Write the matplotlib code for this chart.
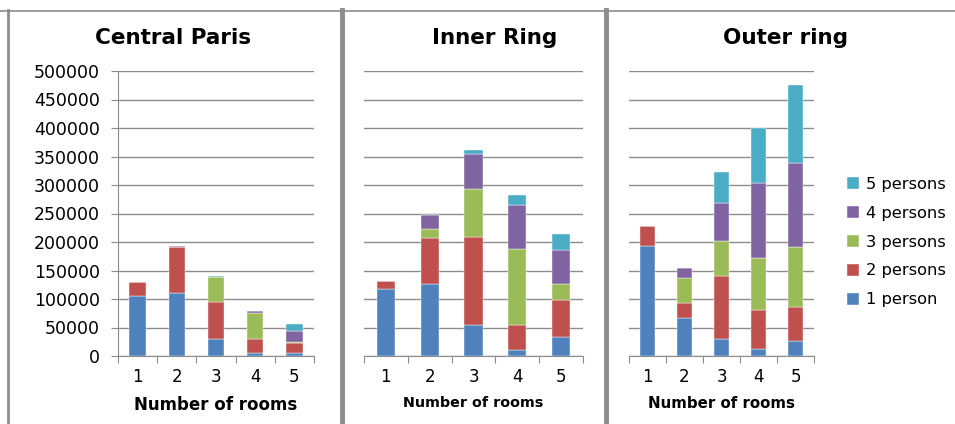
import matplotlib
matplotlib.use("Agg")
import matplotlib.pyplot as plt
from matplotlib.lines import Line2D
import numpy as np

# datos
rooms = ["1", "2", "3", "4", "5"]
series = ["1 person", "2 persons", "3 persons", "4 persons", "5 persons"]
colors = ["#4F81BD", "#C0504D", "#9BBB59", "#8064A2", "#4BACC6"]

central_1p = [106000, 110000, 30000, 6000, 4700]
central_2p = [24000, 82000, 64000, 24500, 18700]
central_3p = [0, 0, 44000, 45500, 500]
central_4p = [0, 1500, 1000, 2500, 20500]
central_5p = [0, 0, 800, 500, 11600]

inner_1p = [117000, 127000, 54400, 10500, 33300]
inner_2p = [14600, 80000, 155000, 44000, 64400]
inner_3p = [0, 16400, 83000, 133300, 28600]
inner_4p = [0, 24000, 61400, 77800, 60200]
inner_5p = [0, 0, 8200, 16400, 27000]

outer_1p = [193000, 67300, 29200, 11700, 26300]
outer_2p = [35000, 26300, 111700, 69600, 60200]
outer_3p = [0, 43800, 60300, 90000, 104700]
outer_4p = [0, 16400, 67800, 132200, 147400]
outer_5p = [0, 0, 53200, 97100, 137400]

titles = ["Central Paris", "Inner Ring", "Outer ring"]
yticks = np.arange(0, 500001, 50000)

W, H = 955, 424
fig = plt.figure(figsize=(W / 100, H / 100), dpi=100)
fig.patch.set_facecolor("white")

def box(x0, y0, x1, y1):
    # convertir pixeles a coordenadas de figura
    return [x0 / W, 1 - y1 / H, (x1 - x0) / W, (y1 - y0) / H]

ax_pos = [box(118, 71, 314, 356), box(364, 71, 583, 356), box(629, 71, 814, 356)]
title_x = [173, 495, 785]
xlabel_size = [12, 10.3, 10.8]
data = [
    [central_1p, central_2p, central_3p, central_4p, central_5p],
    [inner_1p, inner_2p, inner_3p, inner_4p, inner_5p],
    [outer_1p, outer_2p, outer_3p, outer_4p, outer_5p],
]

handles = []
for k in range(3):
    ax = fig.add_axes(ax_pos[k])
    x = np.arange(len(rooms))
    bottom = np.zeros(len(rooms))
    for s in range(5):
        vals = np.array(data[k][s], dtype=float)
        b = ax.bar(x, vals, width=0.42, bottom=bottom, color=colors[s],
                   edgecolor="white", linewidth=0.3, zorder=3)
        bottom += vals
        if k == 2:
            handles.append(b)
    ax.set_xlim(-0.5, 4.5)
    ax.set_ylim(0, 500000)
    ax.set_yticks(yticks)
    ax.grid(axis="y", color="#8c8c8c", linewidth=1, zorder=0)
    ax.set_xticks(np.arange(-0.5, 5, 1), minor=False)
    ax.set_xticklabels([])
    ax.set_xticks(x, minor=True)
    ax.set_xticklabels(rooms, minor=True, fontsize=12)
    ax.tick_params(axis="x", which="major", length=5, color="#8c8c8c", direction="out")
    ax.tick_params(axis="x", which="minor", length=0, pad=9)
    for side in ["top", "right"]:
        ax.spines[side].set_visible(False)
    ax.spines["bottom"].set_color("#8c8c8c")
    if k == 0:
        ax.set_yticklabels([str(v) for v in yticks], fontsize=12.5)
        ax.tick_params(axis="y", length=5, color="#8c8c8c", pad=8)
        ax.spines["left"].set_color("#8c8c8c")
    else:
        ax.set_yticklabels([])
        ax.tick_params(axis="y", length=0)
        ax.spines["left"].set_visible(False)
    fig.text(title_x[k] / W, 1 - 38 / H, titles[k], ha="center", va="center",
             fontsize=15.5, fontweight="bold")
    ax.set_xlabel("Number of rooms", fontsize=xlabel_size[k], fontweight="bold",
                  labelpad=7)

leg = fig.legend(handles[::-1], series[::-1], loc="center left",
                 bbox_to_anchor=(832 / W, 1 - 242 / H), frameon=False,
                 fontsize=11.7, handlelength=0.75, handleheight=0.75,
                 handletextpad=0.45, labelspacing=0.86)

# bordes grises de los paneles
for (x0, y0, x1, y1, lw) in [(0, 10.5, W, 10.5, 1.2), (8, 10, 8, H, 2.0),
                             (341.5, 10, 341.5, H, 3.5), (606, 10, 606, H, 3.5)]:
    fig.add_artist(Line2D([x0 / W, x1 / W], [1 - y0 / H, 1 - y1 / H],
                          transform=fig.transFigure, color="#8c8c8c", linewidth=lw))

plt.savefig("out.png", dpi=100)
